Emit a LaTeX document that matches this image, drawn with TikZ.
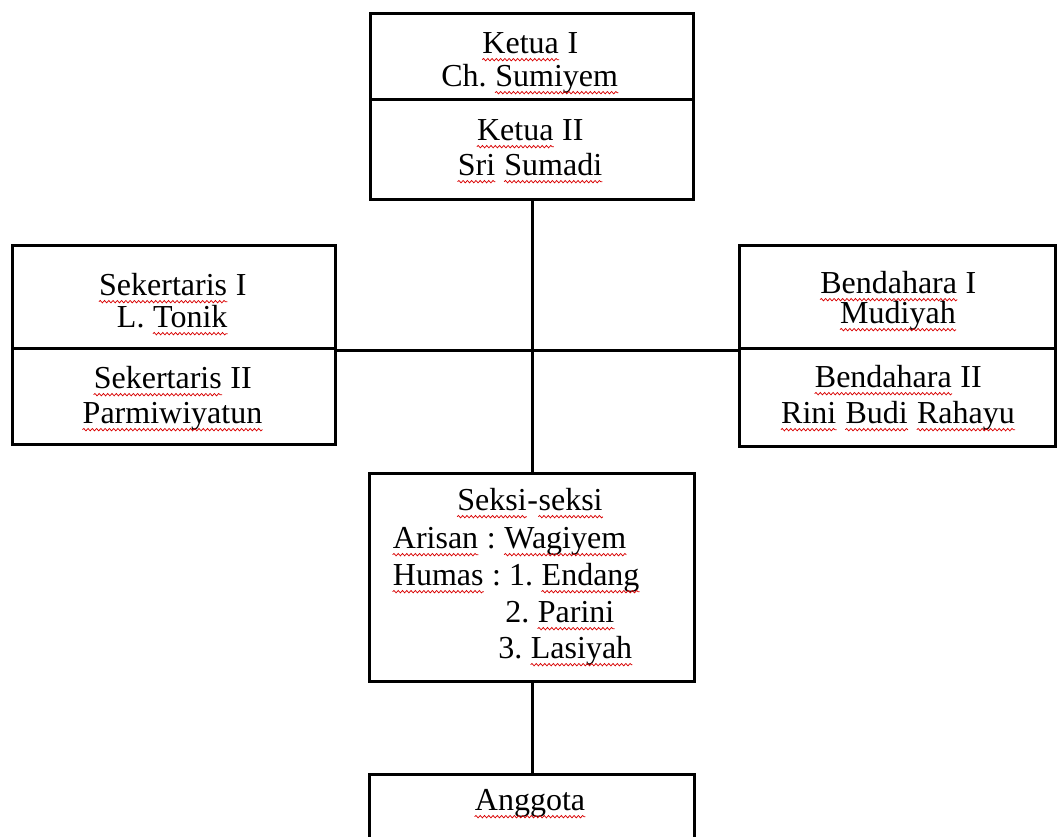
\documentclass[tikz,border=0pt]{standalone}
\usepackage{fontspec}
\setmainfont{Liberation Serif}
\usetikzlibrary{decorations.pathmorphing}
\frenchspacing
\newcommand\sq[1]{\tikz[baseline=(w.base)]{\node[inner sep=0pt, anchor=base] (w) {#1};%
  \draw[red!85!black, line width=0.55pt, decorate, decoration={snake, amplitude=0.9pt, segment length=3.2pt}] ([yshift=-5pt]w.base west) -- ([yshift=-5pt]w.base east);}}
\tikzset{
  cell/.style={draw, line width=2.6pt, inner sep=0pt, anchor=north west},
  conn/.style={line width=2.6pt},
  txt/.style={inner sep=0pt, anchor=base, font=\fontsize{24pt}{28pt}\selectfont},
  txtw/.style={txt, anchor=base west}
}
\begin{document}
\begin{tikzpicture}[x=0.75pt,y=-0.75pt]
\useasboundingbox (0,0) rectangle (1057,836);
\clip (0,0) rectangle (1057,836);
\fill[white] (0,0) rectangle (1057,836);
% boxes
\node[cell, minimum width=242.25pt, minimum height=64.5pt] (k1) at (369,12) {};
\node[cell, minimum width=242.25pt, minimum height=75pt] (k2) at (369,98) {};
\node[cell, minimum width=242.25pt, minimum height=77.25pt] (s1) at (11,244) {};
\node[cell, minimum width=242.25pt, minimum height=72pt] (s2) at (11,347) {};
\node[cell, minimum width=237pt, minimum height=77.25pt] (b1) at (738,244) {};
\node[cell, minimum width=237pt, minimum height=73.5pt] (b2) at (738,347) {};
\node[cell, minimum width=243.75pt, minimum height=156pt] (sx) at (368,472) {};
\node[cell, minimum width=243.75pt, minimum height=75pt] (ag) at (368,773) {};
% connectors
\draw[conn] (k2.south) -- (sx.north);
\draw[conn] (s1.south east) -- (b1.south west);
\draw[conn] (sx.south) -- (ag.north);
% texts
\node[txt] (t1) at (530,53) {\sq{Ketua} I};
\node[txt] (t2) at (530,86) {Ch. \sq{Sumiyem}};
\node[txt] (t3) at (530,140) {\sq{Ketua} II};
\node[txt] (t4) at (530,175) {\sq{Sri} \sq{Sumadi}};
\node[txt] (t5) at (172.5,295) {\sq{Sekertaris} I};
\node[txt] (t6) at (172.5,327) {L. \sq{Tonik}};
\node[txt] (t7) at (172.5,388) {\sq{Sekertaris} II};
\node[txt] (t8) at (172.5,423) {\sq{Parmiwiyatun}};
\node[txt] (t9) at (898,293) {\sq{Bendahara} I};
\node[txt] (t10) at (898,323) {\sq{Mudiyah}};
\node[txt] (t11) at (898,387) {\sq{Bendahara} II};
\node[txt] (t12) at (898,423) {\sq{Rini} \sq{Budi} \sq{Rahayu}};
\node[txt] (t13) at (530,510) {\sq{Seksi}-\sq{seksi}};
\node[txtw] (t14) at (392,548) {\sq{Arisan} : \sq{Wagiyem}};
\node[txtw] (t15) at (392,585) {\sq{Humas} : 1. \sq{Endang}};
\node[txtw] (t16) at (505,622) {2. \sq{Parini}};
\node[txtw] (t17) at (498,658) {3. \sq{Lasiyah}};
\node[txt] (t18) at (530,810) {\sq{Anggota}};
\end{tikzpicture}
\end{document}
